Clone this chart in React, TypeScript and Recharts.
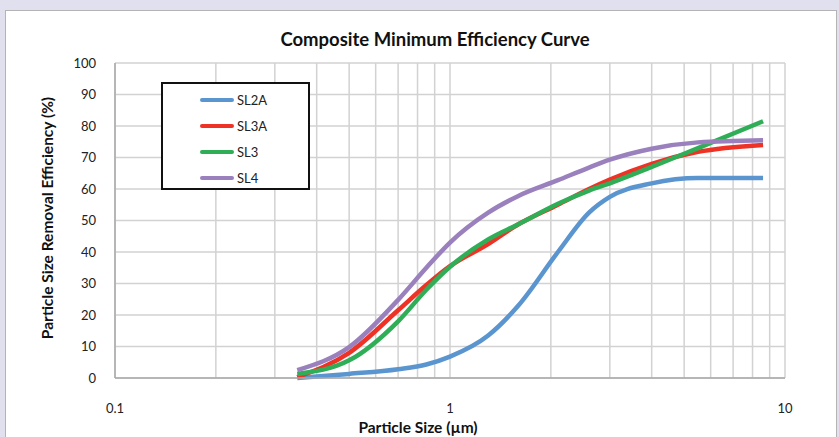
import { LineChart, Line, XAxis, YAxis, CartesianGrid } from "recharts";

// particle size (µm) and removal efficiency (%) per screen
const sizes = [0.35, 0.5, 0.7, 0.85, 1.0, 1.3, 1.6, 2.1, 2.6, 3.0, 4.0, 5.5, 8.6];
const sl2a = [0, 1.3, 2.8, 4.3, 6.8, 13.5, 23, 40, 52.5, 57.5, 61.8, 63.5, 63.5];
const sl3a = [0.3, 8, 21.5, 29.5, 35.5, 42.5, 48.8, 55, 60, 63, 68, 71.8, 74];
const sl3 = [1.3, 5.6, 18, 28, 35.3, 44, 48.8, 55.3, 59.5, 61.8, 67, 73, 81.5];
const sl4 = [2.5, 9.8, 24.8, 35, 43, 52.5, 57.8, 62.8, 66.8, 69.3, 72.8, 74.8, 75.5];

const xTicks = [0.1, 0.2, 0.3, 0.4, 0.5, 0.6, 0.7, 0.8, 0.9, 1, 2, 3, 4, 5, 6, 7, 8, 9, 10];
const yTicks = [0, 10, 20, 30, 40, 50, 60, 70, 80, 90, 100];
const labeled = [0.1, 1, 10];

const series = [
  { key: "SL2A", color: "#5b95cf" },
  { key: "SL3A", color: "#ee3326" },
  { key: "SL3", color: "#2fae57" },
  { key: "SL4", color: "#9a80bd" },
];

const data = sizes.map((s, i) => ({ size: s, SL2A: sl2a[i], SL3A: sl3a[i], SL3: sl3[i], SL4: sl4[i] }));

const font = "Lato, 'Open Sans', sans-serif";

function LegendBox() {
  return (
    <div style={{ position: "absolute", left: 161, top: 82, border: "2px solid #111", background: "#fff", width: 149, height: 108, boxSizing: "border-box", paddingTop: 3 }}>
      {series.map((s) => (
        <div key={s.key} style={{ display: "flex", alignItems: "center", height: 26, paddingLeft: 37 }}>
          <div style={{ width: 34, height: 4, background: s.color, borderRadius: 2, marginRight: 3 }} />
          <span style={{ fontSize: 13, color: "#222", fontFamily: font }}>{s.key}</span>
        </div>
      ))}
    </div>
  );
}

export default function App() {
  return (
    <div style={{ position: "absolute", left: 0, top: 0, width: 839, height: 437, background: "#e0e0ee", overflow: "hidden", fontFamily: font }}>
      <div style={{ position: "absolute", left: 5, top: 10, width: 830, height: 440, background: "#fff", border: "1px solid #b4b4b4" }} />
      <div style={{ position: "absolute", left: 0, top: 0 }}>
        <LineChart width={839} height={437} data={data} margin={{ top: 63, right: 54, bottom: 0, left: 55 }}>
          <CartesianGrid stroke="#d2d2d2" strokeWidth={1.5} />
          <XAxis
            dataKey="size"
            type="number"
            scale="log"
            domain={[0.1, 10]}
            ticks={xTicks}
            allowDataOverflow
            height={59}
            tickFormatter={(v: number) => (labeled.includes(v) ? String(v) : "")}
            tickLine={false}
            tickMargin={20}
            axisLine={{ stroke: "#a8a8a8", strokeWidth: 1.5 }}
            tick={{ fontSize: 13, fill: "#222", fontFamily: font }}
          />
          <YAxis
            type="number"
            domain={[0, 100]}
            ticks={yTicks}
            tickLine={false}
            tickMargin={13}
            width={60}
            axisLine={{ stroke: "#a8a8a8", strokeWidth: 1.5 }}
            tick={{ fontSize: 13, fill: "#222", fontFamily: font }}
          />
          {series.map((s) => (
            <Line
              key={s.key}
              type="monotone"
              dataKey={s.key}
              stroke={s.color}
              strokeWidth={4.5}
              dot={false}
              isAnimationActive={false}
            />
          ))}
        </LineChart>
      </div>
      <LegendBox />
      <div style={{ position: "absolute", left: 0, width: 870, top: 28, textAlign: "center", fontWeight: 700, fontSize: 18.5, color: "#111" }}>
        Composite Minimum Efficiency Curve
      </div>
      <div style={{ position: "absolute", left: 318, width: 200, top: 418, textAlign: "center", fontWeight: 700, fontSize: 15.5, color: "#111" }}>
        Particle Size (µm)
      </div>
      <div
        style={{
          position: "absolute",
          left: 47,
          top: 218,
          transform: "translate(-50%, -50%) rotate(-90deg)",
          whiteSpace: "nowrap",
          fontWeight: 700,
          fontSize: 15.5,
          color: "#111",
        }}
      >
        Particle Size Removal Efficiency (%)
      </div>
    </div>
  );
}
